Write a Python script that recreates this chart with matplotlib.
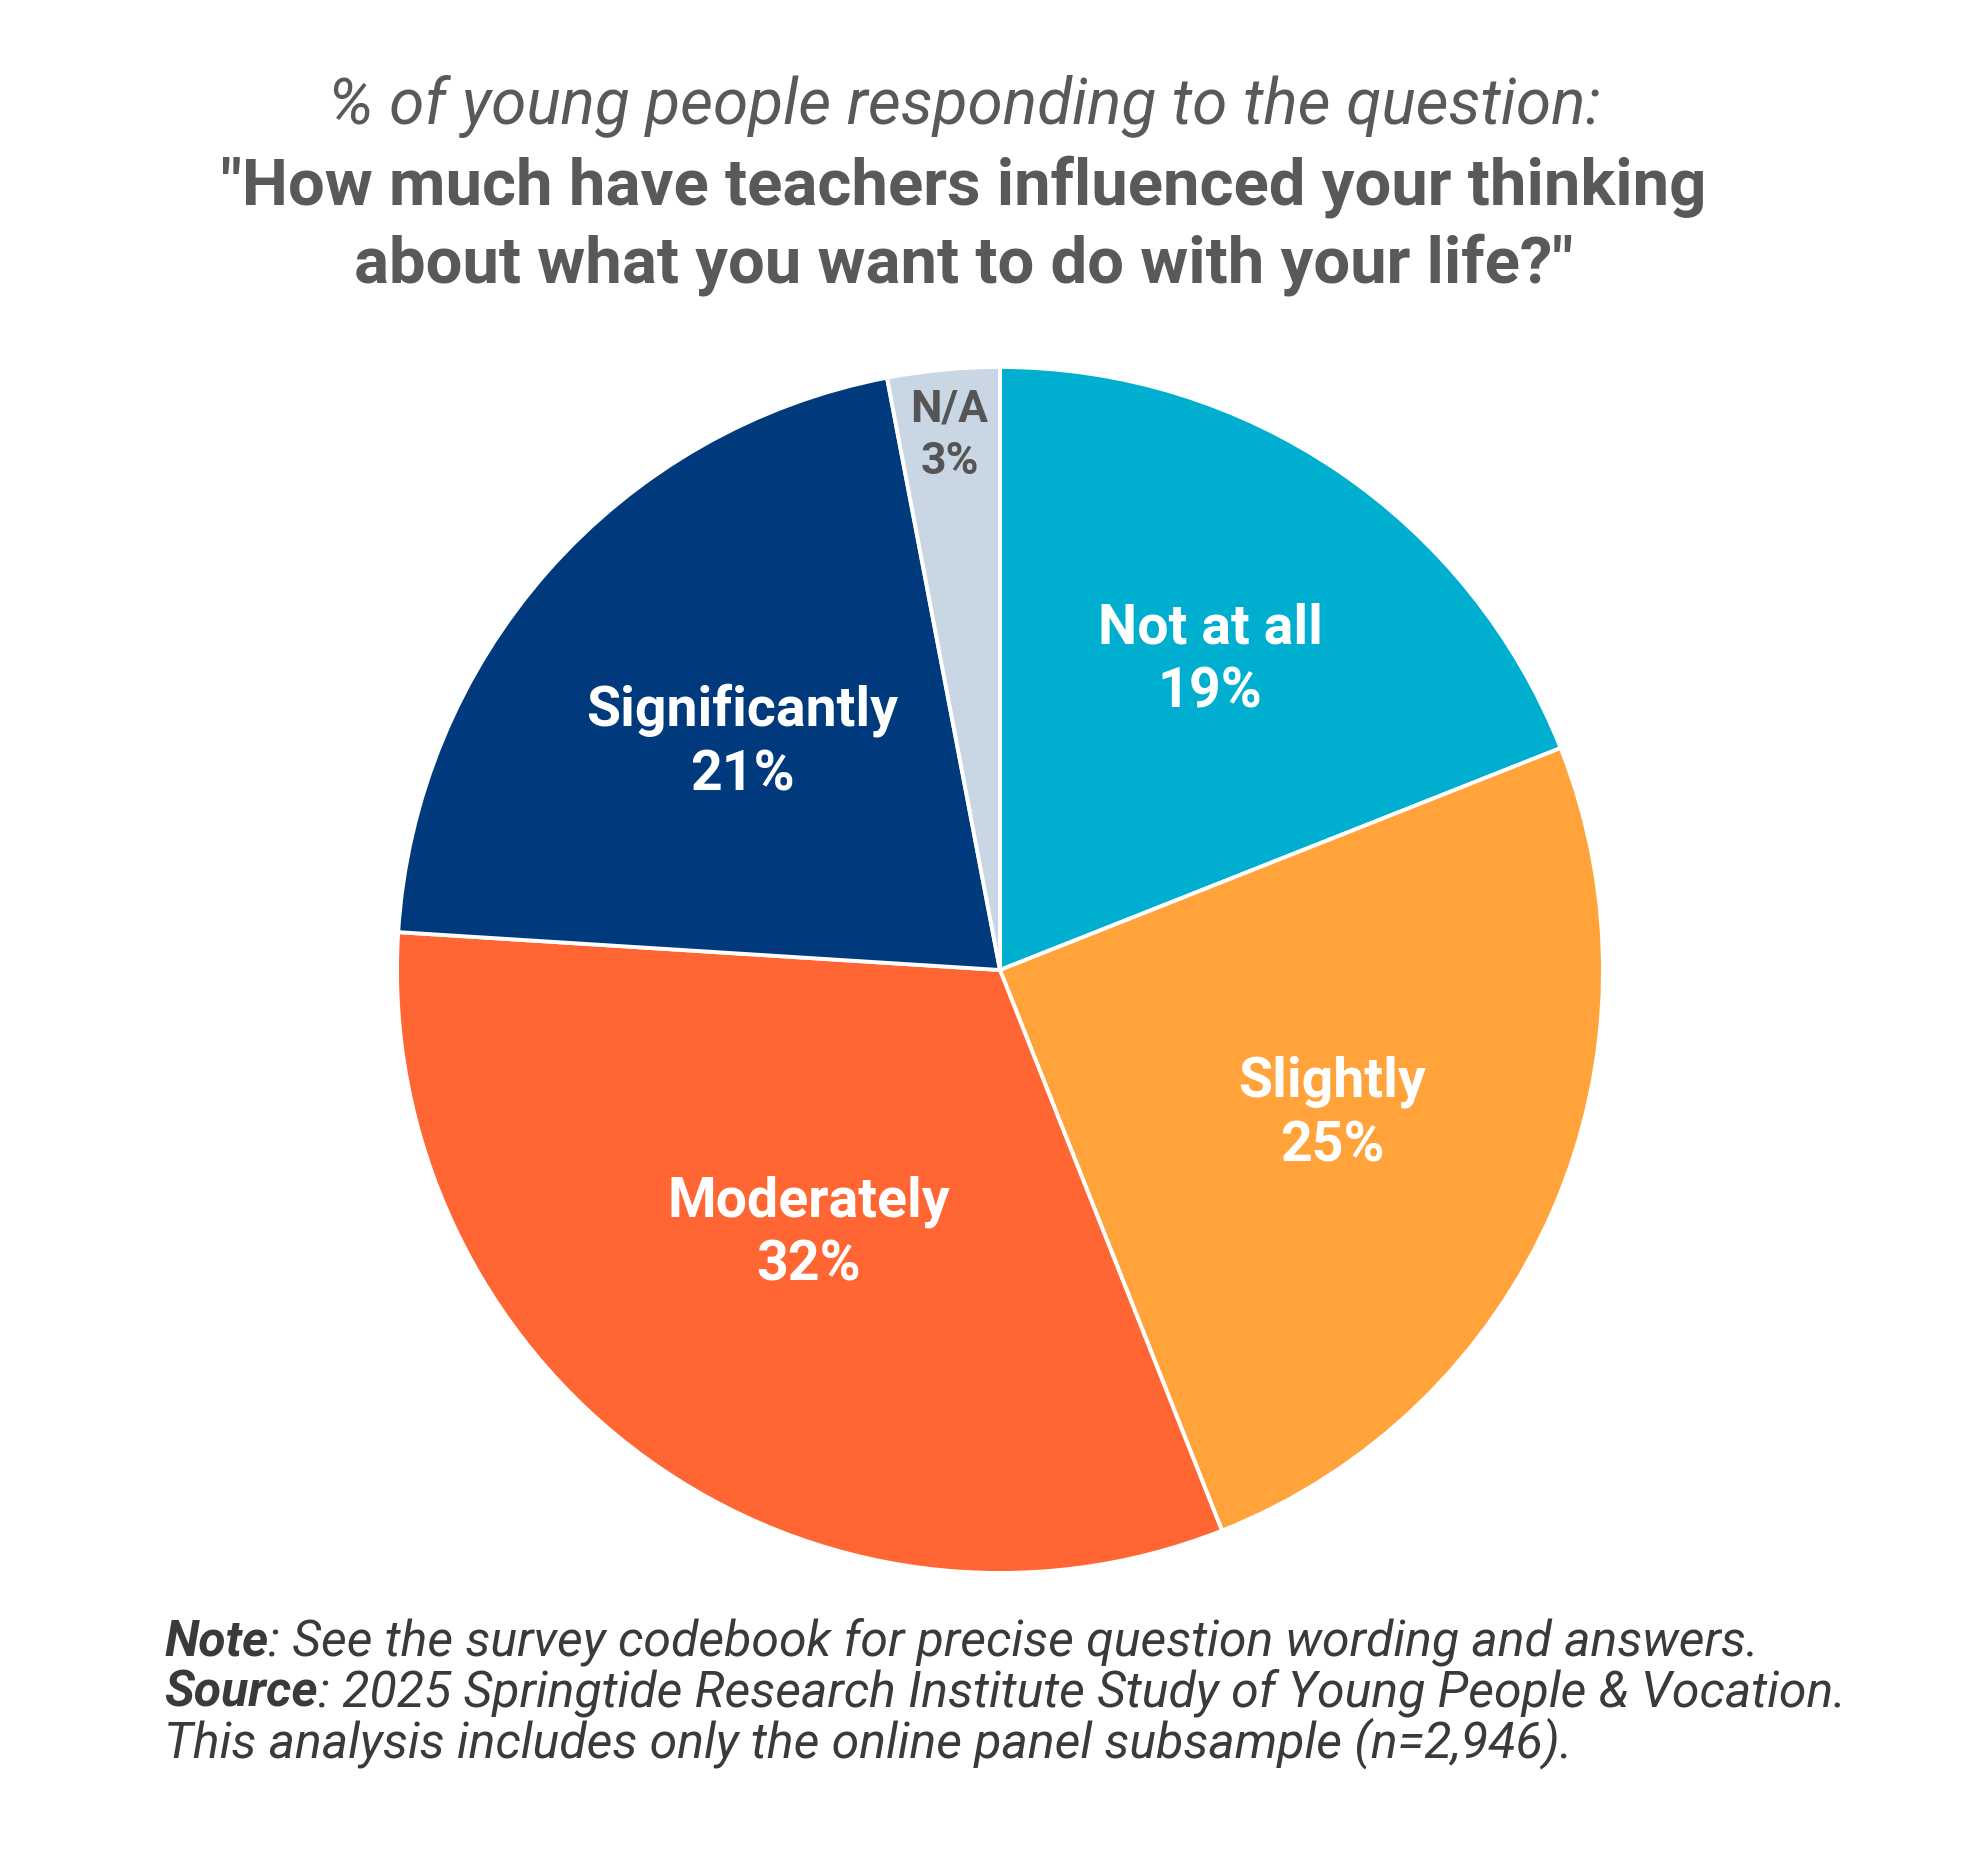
import numpy as np
import matplotlib
matplotlib.use("Agg")
import matplotlib.pyplot as plt

# Data
labels = ["Not at all", "Slightly", "Moderately", "Significantly", "N/A"]
values = [19, 25, 32, 21, 3]
colors = ["#00AECF", "#FFA33A", "#FF6633", "#003A7D", "#C9D6E3"]
text_colors = ["white", "white", "white", "white", "#555555"]
label_dist = [0.62, 0.60, 0.54, 0.57, 0.89]

title_line1 = "% of young people responding to the question:"
title_line2 = "\"How much have teachers influenced your thinking"
title_line3 = "about what you want to do with your life?\""

FONT = "Roboto"
W, H = 1970, 1860
fig = plt.figure(figsize=(W / 100, H / 100), dpi=100)
fig.patch.set_facecolor("white")

# pie axes: centre ~ (1000, 970) px, radius ~603 px
cx, cy, r = 1000, 970, 603
ax = fig.add_axes([(cx - r) / W, (H - cy - r) / H, 2 * r / W, 2 * r / H])

wedges, _ = ax.pie(values, colors=colors, startangle=90, counterclock=False,
                   radius=1.0,
                   wedgeprops=dict(edgecolor="white", linewidth=2.8))
ax.set_xlim(-1.0, 1.0)
ax.set_ylim(-1.0, 1.0)
ax.set_aspect("equal")
ax.axis("off")

for w, lab, val, tc, d in zip(wedges, labels, values, text_colors, label_dist):
    ang = np.deg2rad((w.theta1 + w.theta2) / 2)
    size = 32 if lab == "N/A" else 40
    ax.text(d * np.cos(ang), d * np.sin(ang), f"{lab}\n{val}%",
            ha="center", va="center", color=tc, fontsize=size,
            fontweight="bold", family=FONT, linespacing=1.3)

# Title (centred a little left of the figure centre, as in the original)
tx = 964 / W
fig.text(tx, 1 - 107 / H, title_line1, ha="center", va="center",
         fontsize=46, style="italic", color="#595959", family=FONT)
fig.text(tx, 1 - 187 / H, title_line2, ha="center", va="center",
         fontsize=47, fontweight="bold", color="#595959", family=FONT)
fig.text(tx, 1 - 265 / H, title_line3, ha="center", va="center",
         fontsize=47, fontweight="bold", color="#595959", family=FONT)

# Footer
x0 = 164 / W
foot_col = "#3A3A3A"
fs = 36
t = fig.text(x0, 1 - 1642 / H, "Note", ha="left", va="center", fontsize=fs,
             style="italic", fontweight="bold", color=foot_col, family=FONT)
fig.canvas.draw()
bb = t.get_window_extent()
fig.text(bb.x1 / W, 1 - 1642 / H, ": See the survey codebook for precise question wording and answers.",
         ha="left", va="center", fontsize=fs, style="italic", color=foot_col, family=FONT)
t = fig.text(x0, 1 - 1693 / H, "Source", ha="left", va="center", fontsize=fs,
             style="italic", fontweight="bold", color=foot_col, family=FONT)
fig.canvas.draw()
bb = t.get_window_extent()
fig.text(bb.x1 / W, 1 - 1693 / H, ": 2025 Springtide Research Institute Study of Young People & Vocation.",
         ha="left", va="center", fontsize=fs, style="italic", color=foot_col, family=FONT)
fig.text(x0, 1 - 1743 / H, "This analysis includes only the online panel subsample (n=2,946).",
         ha="left", va="center", fontsize=fs, style="italic", color=foot_col, family=FONT)

fig.savefig("out.png", dpi=100, facecolor="white")
